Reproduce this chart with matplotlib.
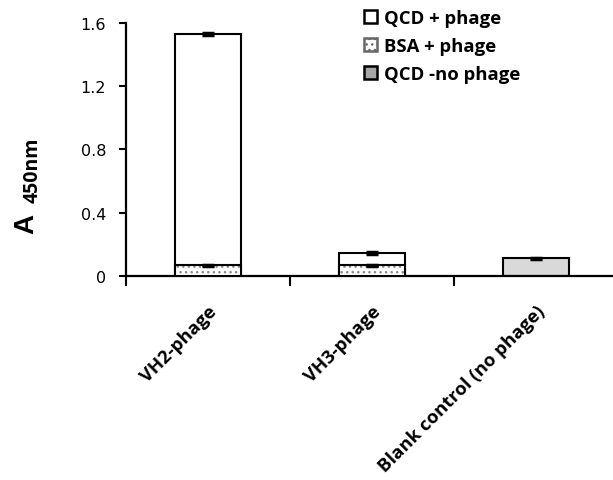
import matplotlib
matplotlib.use("Agg")
import matplotlib.pyplot as plt
from matplotlib.patches import Patch
import numpy as np

categories = ["VH2-phage", "VH3-phage", "Blank control (no phage)"]
qcd_phage = [1.53, 0.145, np.nan]
qcd_phage_err = [0.006, 0.008, np.nan]
bsa_phage = [0.065, 0.065, np.nan]
bsa_phage_err = [0.004, 0.004, np.nan]
qcd_nophage = [np.nan, np.nan, 0.11]
qcd_nophage_err = [np.nan, np.nan, 0.005]
yticks = [0, 0.4, 0.8, 1.2, 1.6]
ytick_labels = ["0", "0.4", "0.8", "1.2", "1.6"]
legend_labels = ["QCD + phage", "BSA + phage", "QCD -no phage"]

W, H = 613, 481
fig = plt.figure(figsize=(W / 100, H / 100), dpi=100)
left, right = 125.5, 618.5
top, bottom = 24, 276.7
ax = fig.add_axes([left / W, (H - bottom) / H, (right - left) / W, (bottom - top) / H])

x = np.arange(len(categories))
bw = 0.4
lw = 1.5
ax.bar(x, qcd_phage, bw, color="white", edgecolor="black", linewidth=lw, zorder=2)
ax.bar(x, bsa_phage, bw, color="white", edgecolor="#8a8a8a", hatch="...", linewidth=0, zorder=3)
ax.bar(x, bsa_phage, bw, color="none", edgecolor="black", linewidth=lw, zorder=4)
ax.bar(x, qcd_nophage, bw, color="#d9d9d9", edgecolor="black", linewidth=lw, zorder=2)

ekw = dict(fmt="none", ecolor="black", elinewidth=1.5, capsize=4, capthick=2.5, zorder=5)
ax.errorbar(x, qcd_phage, yerr=qcd_phage_err, **ekw)
ax.errorbar(x, bsa_phage, yerr=bsa_phage_err, **ekw)
ax.errorbar(x, qcd_nophage, yerr=qcd_nophage_err, **ekw)

ax.set_xlim(-0.5, 2.5)
ax.set_ylim(0, 1.6)
for s in ["top", "right"]:
    ax.spines[s].set_visible(False)
for s in ["left", "bottom"]:
    ax.spines[s].set_linewidth(1.6)
ax.spines["left"].set_bounds(0, 1.6)

ax.set_yticks(yticks)
ax.set_yticklabels(ytick_labels, fontsize=11.5, family="DejaVu Sans")
ax.tick_params(axis="y", direction="out", length=5, width=1.5, pad=9)

ax.set_xticks(x)
ax.set_xticklabels(categories, rotation=45, ha="right", va="top", rotation_mode="anchor",
                   fontsize=13.3, family="Open Sans", fontweight="bold")
ax.tick_params(axis="x", which="major", length=0, pad=19)
ax.set_xticks([-0.5, 0.5, 1.5, 2.5], minor=True)
ax.tick_params(axis="x", which="minor", direction="out", length=7, width=1.5)

fig.text(26 / W, 1 - 224 / H, "A", rotation=90, ha="center", va="center",
         fontsize=20, family="Liberation Sans", fontweight="bold")
fig.text(32.5 / W, 1 - 170 / H, "450nm", rotation=90, ha="center", va="center",
         fontsize=14, family="Open Sans", fontweight="bold")

handles = [Patch(facecolor="white", edgecolor="black", linewidth=1.8),
           Patch(facecolor="white", edgecolor="#666666", hatch="...", linewidth=1.8),
           Patch(facecolor="#a6a6a6", edgecolor="black", linewidth=1.8)]
leg = fig.legend(handles, legend_labels, loc="upper left", bbox_to_anchor=(354 / W, 1.0),
                 frameon=False, prop={"family": "Open Sans", "weight": "bold", "size": 13.3},
                 handlelength=0.7, handleheight=0.7, handletextpad=0.4, labelspacing=0.56,
                 borderaxespad=0.12)

fig.savefig("out.png", dpi=100)
